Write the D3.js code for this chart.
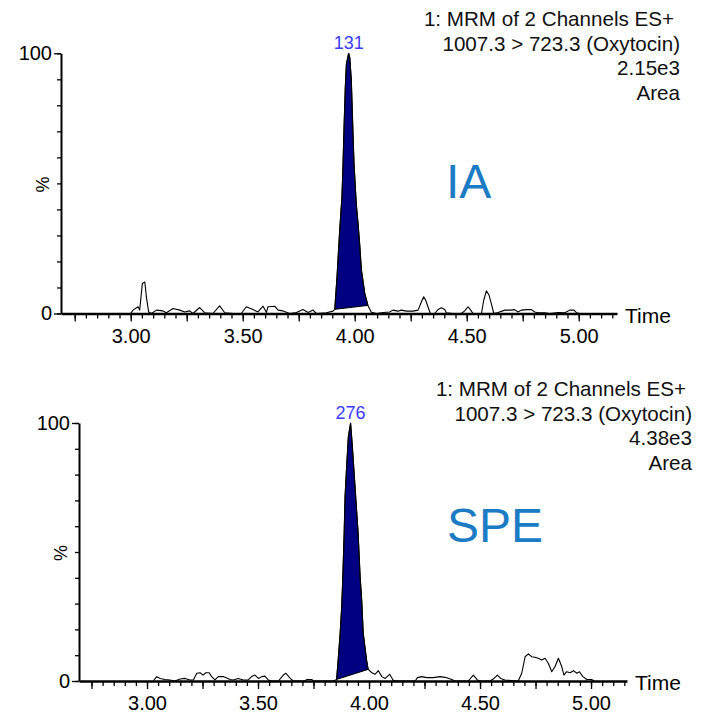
<!DOCTYPE html>
<html>
<head>
<meta charset="utf-8">
<script src="https://cdn.jsdelivr.net/npm/d3@7"></script>
<style>
  body { margin: 0; background: #fff; }
  svg text { font-family: "Liberation Sans", Arial, sans-serif; }
</style>
</head>
<body>
<script>
// chromatogram traces, [time (min), % of max]
var iaTrace = [
  [3.000,0],[3.010,1.3],[3.033,2.6],[3.040,1.3],[3.052,11.5],[3.063,12.1],[3.070,6.4],[3.080,0.6],[3.092,0],
  [3.115,1.3],[3.144,1.0],[3.159,0.3],[3.189,1.9],[3.219,1.3],[3.241,0.6],[3.263,1.0],[3.278,0],[3.308,2.3],
  [3.330,0.3],[3.367,0],[3.397,2.9],[3.420,0.3],[3.457,0],[3.494,0],[3.516,2.6],[3.546,1.5],[3.568,0.6],
  [3.591,2.8],[3.606,0.4],[3.613,2.6],[3.643,2.8],[3.658,1.3],[3.680,1.0],[3.710,0],[3.740,0.4],[3.769,1.5],
  [3.792,0.4],[3.814,1.3],[3.829,0],[3.874,0.3],[3.903,0.9],
  [3.911,1.6],[3.921,14.1],[3.933,32],[3.943,44.8],[3.948,57.5],[3.952,70.3],[3.958,86.9],[3.963,95.9],
  [3.973,100],[3.978,98.4],[3.985,89.5],[3.992,70.3],[3.997,57.5],[4.007,42.2],[4.015,34.6],[4.022,26.9],
  [4.030,16.7],[4.045,7.7],[4.059,3.1],
  [4.074,0.5],[4.097,0],[4.127,0.4],[4.156,0.6],[4.171,1.3],[4.193,0.9],[4.208,1.3],[4.231,0.9],[4.260,0.9],
  [4.283,1.3],[4.298,4.5],[4.308,6.4],[4.317,5.1],[4.327,2.6],[4.338,0],[4.357,0],[4.372,1.5],[4.387,2.2],
  [4.402,1.5],[4.409,0.3],[4.439,0],[4.476,0],[4.491,1.0],[4.506,2.6],[4.518,1.3],[4.528,0],[4.566,0],
  [4.576,5.1],[4.588,8.7],[4.600,7.0],[4.610,3.8],[4.621,0],[4.640,0.4],[4.670,1.3],[4.700,1.3],[4.714,1.5],
  [4.729,0.6],[4.744,1.3],[4.766,1.5],[4.789,1.5],[4.804,0.6],[4.819,0.3],[4.848,0.3],[4.871,0],[4.908,0.4],
  [4.938,0.3],[4.960,1.3],[4.979,1.3],[4.990,0.3],[5.004,0]
];
var speTrace = [
  [3.028,0],[3.044,1.7],[3.059,1.0],[3.081,0.6],[3.103,0.4],[3.126,0],[3.149,0.8],[3.171,1.0],[3.194,0.4],
  [3.209,0.4],[3.224,3.0],[3.239,3.2],[3.253,2.3],[3.265,3.2],[3.280,3.2],[3.291,1.7],[3.306,0.4],[3.321,1.7],
  [3.344,1.7],[3.374,0.6],[3.389,0.4],[3.411,1.0],[3.434,0.4],[3.456,0.4],[3.471,1.7],[3.486,2.3],[3.502,1.0],
  [3.517,1.7],[3.531,1.9],[3.546,0.4],[3.561,0],[3.592,0],[3.614,2.3],[3.626,3.0],[3.645,1.0],[3.659,0],
  [3.711,0],[3.720,0.6],[3.742,0.6],[3.749,0],[3.839,0],
  [3.854,0.6],[3.861,8.1],[3.870,18.5],[3.877,28.8],[3.882,40.4],[3.888,57.2],[3.892,71.4],[3.900,84.4],
  [3.907,94.7],[3.917,100],[3.924,92.1],[3.933,80.5],[3.944,66.3],[3.951,57.2],[3.960,40.4],[3.967,31.4],
  [3.974,18.5],[3.989,8.1],[3.996,4.5],
  [4.013,3.2],[4.027,2.6],[4.042,4.0],[4.058,1.7],[4.073,1.0],[4.093,2.6],[4.108,0.4],[4.118,0],[4.208,0],
  [4.218,1.3],[4.238,1.7],[4.260,1.3],[4.290,1.3],[4.320,1.7],[4.350,1.3],[4.372,0.6],[4.388,0],[4.447,0],
  [4.470,2.3],[4.488,0.4],[4.500,0],[4.545,0],[4.563,1.0],[4.578,2.3],[4.593,1.0],[4.612,0.4],[4.672,0],
  [4.688,3.0],[4.703,9.4],[4.718,10.5],[4.733,9.4],[4.747,9.2],[4.762,8.8],[4.778,8.1],[4.793,8.8],
  [4.808,6.8],[4.823,3.6],[4.838,5.6],[4.853,8.8],[4.868,5.6],[4.878,2.3],[4.890,3.6],[4.906,3.2],
  [4.921,4.0],[4.936,3.0],[4.948,3.6],[4.963,1.7],[4.981,0.6],[5.003,0.6],[5.014,0]
];

// integrated peak start / end times
var iaPeakRange = [3.911, 4.059];
var spePeakRange = [3.854, 3.996];
var peakLabels = ["131", "276"];
var sampleNames = ["IA", "SPE"];
var headerIA = ["1: MRM of 2 Channels ES+", "1007.3 > 723.3 (Oxytocin)", "2.15e3", "Area"];
var headerSPE = ["1: MRM of 2 Channels ES+", "1007.3 > 723.3 (Oxytocin)", "4.38e3", "Area"];

var xMinor = d3.range(2.75, 5.16, 0.05).map(function(d) { return Math.round(d * 100) / 100; });
var xMajor = d3.range(2.75, 5.16, 0.25).map(function(d) { return Math.round(d * 100) / 100; });
var xLabels = { "3": "3.00", "3.5": "3.50", "4": "4.00", "4.5": "4.50", "5": "5.00" };
var yMinor = d3.range(0, 101, 10);
var yMajor = [0, 100];

var svg = d3.select("body").append("svg")
    .attr("width", 702)
    .attr("height", 714);

function drawPanel(p) {
  var x = d3.scaleLinear().domain(p.xDomain).range([p.left, p.right]);
  var y = d3.scaleLinear().domain([0, 100]).range([p.bottom, p.top]);
  var g = svg.append("g");

  // peak fill (trace points in range, closed by a straight baseline)
  var inPeak = p.trace.filter(function(d) { return d[0] >= p.peak[0] && d[0] <= p.peak[1]; });
  var line = d3.line().x(function(d) { return x(d[0]); }).y(function(d) { return y(d[1]); });
  g.append("path")
    .attr("d", line(inPeak) + "Z")
    .attr("fill", "#000080")
    .attr("stroke", "#000")
    .attr("stroke-width", 1);

  g.append("path")
    .attr("d", line(p.trace))
    .attr("fill", "none")
    .attr("stroke", "#000")
    .attr("stroke-width", 1.1)
    .attr("stroke-linejoin", "round");

  // x axis: minor then major ticks
  var xa = g.append("g").attr("transform", "translate(0," + p.bottom + ")")
    .call(d3.axisBottom(x).tickValues(xMinor).tickSize(5).tickSizeOuter(0).tickFormat(""));
  xa.select(".domain").attr("stroke-width", 2.6);
  xa.selectAll(".tick line").attr("stroke-width", 1.3);

  var xb = g.append("g").attr("transform", "translate(0," + p.bottom + ")")
    .call(d3.axisBottom(x).tickValues(xMajor).tickSize(8).tickPadding(7)
      .tickFormat(function(d) { return xLabels[String(d)] || ""; }));
  xb.select(".domain").remove();
  xb.selectAll(".tick line").attr("stroke-width", 1.3);
  xb.selectAll("text").attr("font-size", 20).attr("fill", "#000")
    .style("font-family", '"Liberation Sans", Arial, sans-serif');

  // y axis
  var ya = g.append("g").attr("transform", "translate(" + p.left + ",0)")
    .call(d3.axisLeft(y).tickValues(yMinor).tickSize(4).tickSizeOuter(0).tickFormat(""));
  ya.select(".domain").attr("stroke-width", 2);
  ya.selectAll(".tick line").attr("stroke-width", 1.3);

  var yb = g.append("g").attr("transform", "translate(" + p.left + ",0)")
    .call(d3.axisLeft(y).tickValues(yMajor).tickSize(7).tickPadding(2));
  yb.select(".domain").remove();
  yb.selectAll(".tick line").attr("stroke-width", 1.3);
  yb.selectAll("text").attr("font-size", 20).attr("fill", "#000")
    .style("font-family", '"Liberation Sans", Arial, sans-serif');

  g.append("text")
    .attr("x", p.right + 8)
    .attr("y", p.bottom + 9)
    .attr("font-size", 21)
    .text("Time");

  g.append("text")
    .attr("transform", "translate(" + (p.left - 12) + "," + (y(50) + 1) + ") rotate(-90)")
    .attr("text-anchor", "middle")
    .attr("font-size", 18)
    .text("%");

  // peak label above apex
  var apex = d3.greatest(p.trace, function(d) { return d[1]; });
  g.append("text")
    .attr("x", x(apex[0]))
    .attr("y", y(apex[1]) - 4)
    .attr("text-anchor", "middle")
    .attr("font-size", 18)
    .attr("fill", "#3c3cff")
    .text(p.label);

  // header block
  g.selectAll(".hdr")
    .data(p.header)
    .enter()
    .append("text")
    .attr("class", "hdr")
    .attr("x", function(d, i) { return i === 0 ? p.hdrX - 6 : p.hdrX; })
    .attr("y", function(d, i) { return p.hdrY + i * 24.7; })
    .attr("text-anchor", "end")
    .attr("font-size", 20.6)
    .attr("fill", "#111")
    .text(function(d) { return d; });

  g.append("text")
    .attr("x", p.nameX)
    .attr("y", p.nameY)
    .attr("font-size", 48)
    .attr("fill", "#1b7bc4")
    .text(p.name);
}

drawPanel({
  trace: iaTrace, peak: iaPeakRange, label: peakLabels[0], name: sampleNames[0], header: headerIA,
  xDomain: [2.6888, 5.171], left: 61, right: 617, top: 53.3, bottom: 313.5,
  hdrX: 680, hdrY: 26, nameX: 446, nameY: 198
});
drawPanel({
  trace: speTrace, peak: spePeakRange, label: peakLabels[1], name: sampleNames[1], header: headerSPE,
  xDomain: [2.6937, 5.162], left: 79, right: 627, top: 423, bottom: 681,
  hdrX: 692, hdrY: 396, nameX: 447, nameY: 542
});
</script>
</body>
</html>
